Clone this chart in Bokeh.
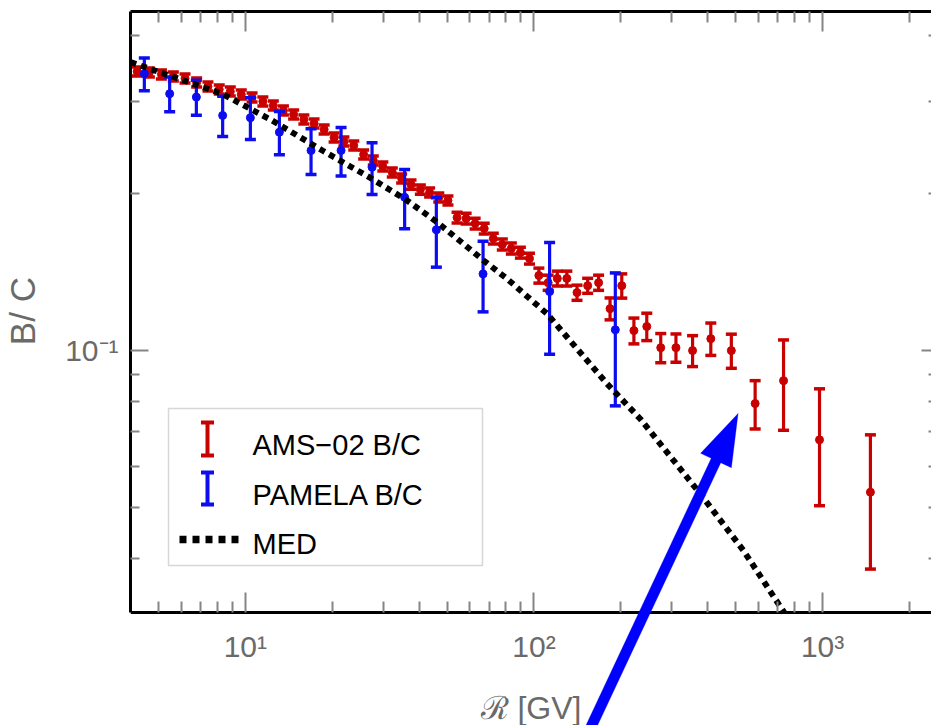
from bokeh.plotting import figure
from bokeh.models import (LogAxis, FixedTicker, CustomJSTickFormatter, Arrow, TeeHead,
                          BoxAnnotation, Label, PolyAnnotation, ColumnDataSource)
from bokeh.embed import file_html
from bokeh.resources import INLINE

# ---- AMS-02 boron-to-carbon ratio vs rigidity ----
ams_rigidity = [4.22, 4.65, 5.12, 5.63, 6.18, 6.78, 7.42, 8.12, 8.87, 9.68,
                10.55, 11.5, 12.5, 13.55, 14.7, 15.95, 17.3, 18.75, 20.3, 21.95,
                23.75, 25.7, 27.75, 29.95, 32.3, 34.8, 37.5, 40.4, 43.5, 46.8,
                50.35, 54.15, 58.2, 62.55, 67.25, 72.3, 77.7, 83.5, 89.75, 96.5,
                104, 112, 120.5, 130, 141, 153.5, 167.5, 183.5, 201.5, 222,
                246, 275, 310.5, 354.5, 410, 483, 584, 732.5, 976, 1465]
ams_bc = [0.342, 0.3405, 0.3375, 0.3345, 0.3316, 0.3258, 0.3201, 0.3159, 0.3131, 0.309,
          0.305, 0.2996, 0.2944, 0.288, 0.283, 0.2768, 0.272, 0.2649, 0.2556, 0.2512,
          0.2468, 0.2372, 0.231, 0.225, 0.2191, 0.2134, 0.2078, 0.2033, 0.2006, 0.1963,
          0.1937, 0.1797, 0.1789, 0.175, 0.1712, 0.1638, 0.1596, 0.1568, 0.154, 0.15,
          0.1392, 0.1349, 0.1374, 0.1374, 0.1291, 0.1331, 0.1349, 0.1203, 0.1331, 0.1092,
          0.1112, 0.1013, 0.1013, 0.1, 0.1054, 0.1, 0.0792, 0.0876, 0.0675, 0.0536]
ams_err = [0.0068, 0.0068, 0.0068, 0.0067, 0.0066, 0.0065, 0.0064, 0.0063, 0.0063, 0.0062,
           0.0061, 0.006, 0.0059, 0.0058, 0.0057, 0.0055, 0.0054, 0.0053, 0.0051, 0.005,
           0.0049, 0.0047, 0.0046, 0.0045, 0.0044, 0.0043, 0.0042, 0.0041, 0.004, 0.0039,
           0.0039, 0.0043, 0.0043, 0.0042, 0.0041, 0.0039, 0.0038, 0.0038, 0.0037, 0.0036,
           0.0046, 0.0045, 0.0045, 0.0045, 0.0043, 0.0044, 0.0045, 0.0058, 0.0071, 0.0062,
           0.0067, 0.0065, 0.0063, 0.0068, 0.0075, 0.0075, 0.0084, 0.0172, 0.017, 0.0154]

# ---- PAMELA boron-to-carbon ratio ----
pamela_rigidity = [4.467, 5.467, 6.765, 8.344, 10.41, 13.12, 16.89, 21.46, 27.48, 35.64,
                   45.9, 66.63, 113.3, 191.4]
pamela_bc = [0.3385, 0.31, 0.3054, 0.2817, 0.2789, 0.2617, 0.2414, 0.2414, 0.2243, 0.1965,
             0.1702, 0.1402, 0.1297, 0.1096]
pamela_err = [0.0244, 0.0236, 0.0234, 0.0249, 0.0256, 0.0248, 0.0243, 0.0257, 0.0254, 0.0255,
              0.0258, 0.0216, 0.0313, 0.0312]

# ---- MED propagation model (ends where it meets the lower edge) ----
med_rigidity = [4.0, 8.30, 12.37, 18.49, 27.11, 36.33, 46.15, 66.95, 80.68, 111.0,
                179.2, 233.7, 377.2, 532.9, 723.8, 736.4]
med_bc = [0.3563, 0.3100, 0.2756, 0.2414, 0.2140, 0.1937, 0.1761, 0.1487, 0.1372, 0.1176,
          0.0864, 0.0740, 0.0532, 0.0414, 0.0320, 0.03155]

# ---- axis ticks and extents ----
x_major = [10, 100, 1000]
x_minor = [4, 5, 6, 7, 8, 9, 20, 30, 40, 50, 60, 70, 80, 90,
           200, 300, 400, 500, 600, 700, 800, 900, 2000]
y_major = [0.1]
y_minor = [0.04, 0.05, 0.06, 0.07, 0.08, 0.09, 0.2, 0.3, 0.4]
x_lim = (4.0, 2385)
y_lim = (0.03155, 0.4453)

RED = "#c80000"
BLUE = "#0c0cf0"
ARROW_BLUE = "#0000ff"
LABEL_GREY = "#6a6a6a"
TICK_GREY = "#858585"
FONT = "Liberation Sans"

# The drawing area runs to the bottom of the page so the pointer arrow can
# cross the axis region; the bottom axis is pinned at the lower data limit.
p = figure(width=931, height=725, x_axis_type="log", y_axis_type="log",
           x_range=x_lim, y_range=(0.01918, y_lim[1]),
           output_backend="svg", toolbar_location=None,
           min_border_left=130, min_border_right=0,
           min_border_top=11, min_border_bottom=0)
p.grid.visible = False
p.outline_line_color = None
p.background_fill_color = "white"
p.border_fill_color = "white"

sup_formatter = CustomJSTickFormatter(code="""
    const e = Math.round(Math.log10(tick));
    const sup = {"0": "\u2070", "1": "\u00b9", "2": "\u00b2", "3": "\u00b3", "-": "\u207b"};
    return "10" + String(e).split("").map(c => sup[c]).join("");
""")


def style_axis(ax, major_len, minor_len):
    ax.axis_line_color = "black"
    ax.axis_line_width = 3
    ax.major_tick_line_color = TICK_GREY
    ax.minor_tick_line_color = TICK_GREY
    ax.major_tick_line_width = 2
    ax.minor_tick_line_width = 2
    ax.major_tick_in = major_len
    ax.major_tick_out = 0
    ax.minor_tick_in = minor_len
    ax.minor_tick_out = 0


# bottom axis
xa = p.xaxis[0]
xa.fixed_location = y_lim[0]
xa.ticker = FixedTicker(ticks=x_major, minor_ticks=x_minor)
xa.formatter = sup_formatter
style_axis(xa, 20, 11)
xa.major_label_text_font = FONT
xa.major_label_text_font_size = "30px"
xa.major_label_text_color = LABEL_GREY
xa.major_label_standoff = 17
xa.axis_label = "\u211b [GV]"
xa.axis_label_text_font = FONT
xa.axis_label_text_font_size = "32px"
xa.axis_label_text_font_style = "normal"
xa.axis_label_text_color = LABEL_GREY
xa.axis_label_standoff = 24

# left axis; leading wide spaces lift the title to the middle of the bounded axis
ya = p.yaxis[0]
ya.bounds = y_lim
ya.ticker = FixedTicker(ticks=y_major, minor_ticks=y_minor)
ya.formatter = sup_formatter
style_axis(ya, 18, 9)
ya.major_label_text_font = FONT
ya.major_label_text_font_size = "30px"
ya.major_label_text_color = LABEL_GREY
ya.major_label_standoff = 12
ya.axis_label = "\u2003\u2003\u2003\u00a0B/ C"
ya.axis_label_text_font = FONT
ya.axis_label_text_font_size = "35px"
ya.axis_label_text_font_style = "normal"
ya.axis_label_text_color = LABEL_GREY
ya.axis_label_standoff = 20

# top axis: ticks only
top = LogAxis(ticker=FixedTicker(ticks=x_major, minor_ticks=x_minor),
              major_label_text_font_size="1px", major_label_text_color=None,
              major_label_standoff=0)
style_axis(top, 20, 11)
p.add_layout(top, "above")

# right axis: ticks only, frame edge runs off the page
right = LogAxis(ticker=FixedTicker(ticks=y_major, minor_ticks=y_minor), bounds=y_lim,
                major_label_text_font_size="1px", major_label_text_color=None,
                major_label_standoff=0)
style_axis(right, 10, 3)
right.axis_line_color = None
p.add_layout(right, "right")


def error_bars(x, y, err, color):
    lo = [v - e for v, e in zip(y, err)]
    hi = [v + e for v, e in zip(y, err)]
    src = ColumnDataSource(dict(x=x, y=y, lo=lo, hi=hi))
    p.segment(x0="x", y0="lo", x1="x", y1="hi", source=src,
              line_color=color, line_width=3.2)
    p.scatter("x", "hi", source=src, marker="dash", size=11,
              line_color=color, line_width=3.5)
    p.scatter("x", "lo", source=src, marker="dash", size=11,
              line_color=color, line_width=3.5)
    p.scatter("x", "y", source=src, marker="circle", size=8,
              fill_color=color, line_color=color)


error_bars(ams_rigidity, ams_bc, ams_err, RED)
error_bars(pamela_rigidity, pamela_bc, pamela_err, BLUE)

p.line(med_rigidity, med_bc, line_color="black", line_width=6, line_dash="6 5")

# ---- legend, drawn in page pixels ----
p.add_layout(BoxAnnotation(left=168, right=482, top=408, bottom=565,
                           left_units="canvas", right_units="canvas",
                           top_units="canvas", bottom_units="canvas",
                           fill_color="white", fill_alpha=1.0,
                           line_color="#7a7a7a", line_width=1.5))
for y0, y1, col in [(422, 455, RED), (472, 504, BLUE)]:
    p.add_layout(Arrow(x_start=207, y_start=y0, x_end=207, y_end=y1,
                       start_units="canvas", end_units="canvas",
                       start=TeeHead(size=13, line_width=4, line_color=col),
                       end=TeeHead(size=13, line_width=4, line_color=col),
                       line_color=col, line_width=4))
p.add_layout(Arrow(x_start=179, y_start=539, x_end=239, y_end=539,
                   start_units="canvas", end_units="canvas", start=None, end=None,
                   line_color="black", line_width=7.5, line_dash="7 6"))
for txt, yb in [("AMS\u221202 B/C", 444.6), ("PAMELA B/C", 494.6), ("MED", 543.2)]:
    p.add_layout(Label(x=252, y=yb, x_units="canvas", y_units="canvas", text=txt,
                       text_font=FONT, text_font_size="29px", text_color="black",
                       text_baseline="alphabetic"))

# ---- pointer arrow (shaft and head as one outline), crossing the axis area ----
arrow_xs = [581.75, 710.75, 700.1, 737.6, 730.9, 720.25, 591.25]
arrow_ys = [732.77, 457.77, 452.8, 412.9, 467.2, 462.23, 737.23]
p.add_layout(PolyAnnotation(xs=arrow_xs, ys=arrow_ys,
                            xs_units="canvas", ys_units="canvas",
                            fill_color=ARROW_BLUE, fill_alpha=1.0,
                            line_color=ARROW_BLUE, line_width=1))

open("out.html", "w").write(file_html(p, INLINE))
